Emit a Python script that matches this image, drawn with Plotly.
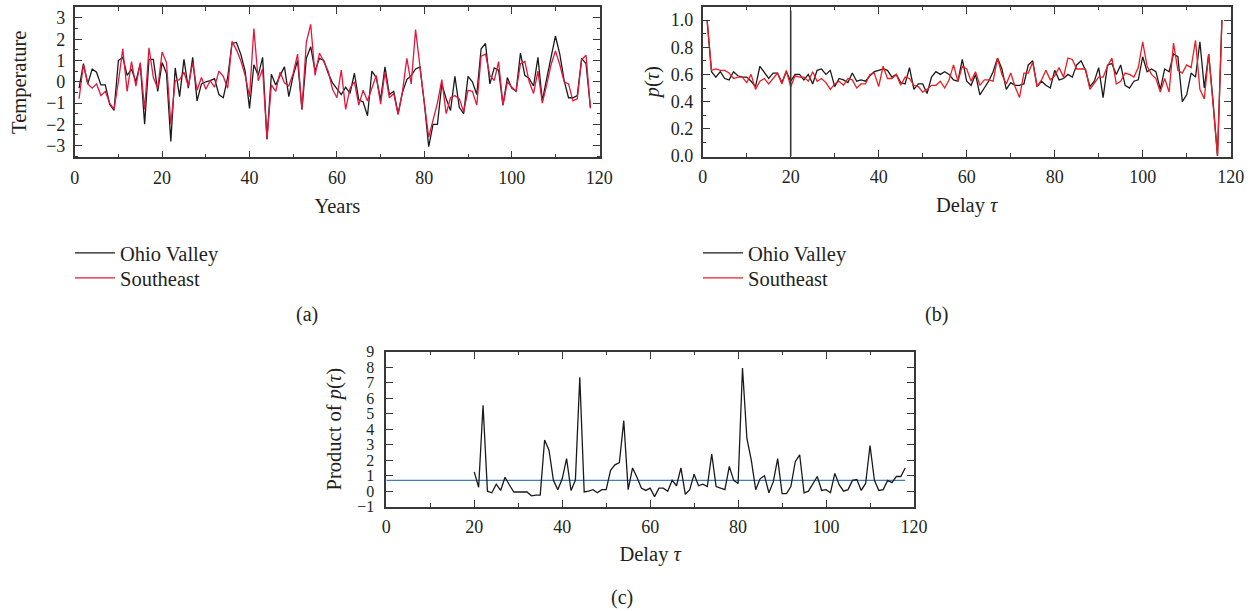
import plotly.graph_objects as go

W, H = 1253, 611
FONT = "Liberation Serif"
TEXT = "#231f20"
AXIS = "#383838"
BLACK = "#1a1a1a"
RED_A = "#e3173e"
RED_B = "#ec1c24"
BLUE = "#3f7cc4"

# ---------------- data ----------------
years = list(range(1, 119))
ohio_temp = [-0.3, 0.85, -0.1, 0.6, 0.45, -0.15, -0.15, -1.05, -1.35, 1.0,
             1.15, 0.3, 0.6, 0.0, 0.85, -2.0, 1.05, 1.05, -0.45, 0.9,
             0.4, -2.8, 0.65, -0.7, 1.05, -0.3, 1.15, -0.9, -0.1, 0.0,
             0.05, 0.15, -0.6, -0.75, 0.2, 1.8, 1.85, 1.3, 0.5, -1.25,
             0.8, 0.3, 1.15, -2.7, 0.35, -0.15, 0.3, 0.7, -0.7, 0.3,
             1.0, -1.3, 1.1, 1.65, 0.5, 1.1, 1.0, 0.4, -0.05, -0.35,
             -0.6, -0.25, -0.55, 0.4, -0.85, -0.95, -1.6, 0.5, 0.2, -0.85,
             0.7, -0.6, -0.45, -1.5, -0.5, 0.1, 0.3, 0.6, 0.7, -1.0,
             -3.05, -2.0, -2.0, -0.1, -0.8, -1.35, 0.25, -1.2, -1.5, 0.25,
             0.0, -0.6, 1.55, 1.8, -0.1, 0.65, 0.55, -1.1, 0.2, -0.3,
             -0.45, 1.35, 0.3, 0.15, -0.2, 1.15, -0.9, 0.15, 1.15, 2.15,
             1.3, 0.05, -0.75, -0.75, -0.65, 1.1, 0.85, -1.2]
southeast_temp = [-0.8, 0.8, -0.1, -0.3, -0.1, -0.65, -0.45, -1.0, -1.3, 0.0,
                  1.55, -0.45, 0.95, -0.2, 0.9, -1.3, 1.6, 0.2, -0.3, 1.4,
                  0.9, -2.0, 0.05, 0.1, 0.45, -0.2, 0.9, -0.4, 0.2, -0.35,
                  0.05, -0.25, 0.5, 0.25, -0.3, 1.9, 1.5, 1.0, 0.3, -0.7,
                  2.5, 0.05, 0.6, -2.7, -0.15, -0.45, 0.45, -0.05, -0.2, 0.4,
                  1.3, -1.3, 1.85, 2.7, 0.3, 1.35, 0.95, 0.5, -0.35, -0.75,
                  0.55, -1.3, -0.3, 0.0, -1.1, -0.4, -0.9, -0.3, 0.3, -1.05,
                  0.45, -0.75, -0.55, -1.55, -0.45, 1.1, -0.1, 2.45, 0.6, -1.0,
                  -2.6, -1.8, -1.0, 0.1, -1.5, -0.75, -0.65, -0.8, -1.4, -0.4,
                  -0.45, -1.1, 1.2, 1.3, 0.3, 0.05, 0.95, -1.1, 0.0, -0.25,
                  -0.45, 0.85, 0.95, 0.0, -0.55, 0.5, -1.0, -0.15, 0.8, 1.45,
                  0.8, 0.0, -0.1, -0.9, -0.8, 1.05, 1.25, -1.25]

delay_b = list(range(1, 119))
ohio_p = [1.0, 0.62, 0.58, 0.62, 0.57, 0.56, 0.62, 0.59, 0.58, 0.58,
          0.55, 0.51, 0.66, 0.61, 0.57, 0.61, 0.61, 0.54, 0.62, 0.55,
          0.6, 0.6, 0.56, 0.6, 0.53, 0.63, 0.64, 0.6, 0.63, 0.51,
          0.57, 0.56, 0.54, 0.61, 0.55, 0.56, 0.55, 0.59, 0.62, 0.63,
          0.64, 0.63, 0.58, 0.6, 0.54, 0.53, 0.65, 0.49, 0.53, 0.53,
          0.46, 0.58, 0.62, 0.6, 0.62, 0.6, 0.56, 0.55, 0.71, 0.55,
          0.52, 0.6, 0.45, 0.5, 0.55, 0.62, 0.72, 0.64, 0.49, 0.54,
          0.52, 0.52, 0.53, 0.67, 0.7, 0.51, 0.55, 0.52, 0.5, 0.63,
          0.56, 0.57, 0.6, 0.58, 0.67, 0.7, 0.63, 0.51, 0.55, 0.65,
          0.43, 0.67, 0.68, 0.6, 0.67, 0.52, 0.5, 0.55, 0.56, 0.73,
          0.62, 0.64, 0.62, 0.49, 0.64, 0.62, 0.75, 0.73, 0.4, 0.45,
          0.61, 0.58, 0.84, 0.5, 0.75, 0.4, 0.0, 1.0]
southeast_p = [1.0, 0.63, 0.64, 0.63, 0.63, 0.61, 0.57, 0.58, 0.58, 0.54,
               0.6, 0.49, 0.55, 0.57, 0.53, 0.57, 0.61, 0.53, 0.63, 0.51,
               0.59, 0.58, 0.58, 0.55, 0.62, 0.55, 0.57, 0.54, 0.49, 0.53,
               0.55, 0.52, 0.57, 0.56, 0.5, 0.53, 0.53, 0.6, 0.61, 0.51,
               0.66, 0.57, 0.57, 0.6, 0.52, 0.58, 0.57, 0.52, 0.51, 0.47,
               0.49, 0.52, 0.52, 0.55, 0.5, 0.56, 0.67, 0.55, 0.66, 0.64,
               0.55, 0.62, 0.52, 0.56, 0.56, 0.55, 0.72, 0.6, 0.53, 0.61,
               0.51, 0.43, 0.61, 0.61, 0.69, 0.51, 0.56, 0.63, 0.56, 0.59,
               0.65, 0.58, 0.72, 0.71, 0.64, 0.64, 0.64, 0.49, 0.54, 0.58,
               0.58, 0.66, 0.72, 0.53, 0.55, 0.61, 0.6, 0.58, 0.65, 0.84,
               0.66, 0.6, 0.57, 0.47, 0.57, 0.47, 0.83, 0.63, 0.61, 0.67,
               0.65, 0.85, 0.49, 0.42, 0.75, 0.4, 0.0, 1.0]
marker_delay = 20
marker_top = 1.07

delay_c = list(range(20, 119))
product_p = [1.25, 0.25, 5.55, 0.0, -0.1, 0.45, 0.05, 0.9, 0.4, -0.05,
             -0.05, -0.05, -0.05, -0.3, -0.25, -0.25, 3.3, 2.65, 0.7, 0.1,
             0.8, 2.1, 0.05, 0.7, 7.35, -0.05, 0.0, 0.1, -0.1, 0.1,
             0.1, 1.35, 1.7, 1.85, 4.55, 0.1, 1.5, 0.9, 0.2, 0.05,
             0.2, -0.35, 0.2, 0.2, 0.0, 0.7, 0.35, 1.5, -0.2, 0.1,
             1.1, 0.35, 0.45, 0.3, 2.4, 0.3, 0.2, 0.1, 1.6, 0.7,
             0.5, 7.95, 3.4, 2.0, 0.1, 0.8, 1.0, -0.1, 0.6, 2.1,
             -0.15, -0.15, 0.3, 1.9, 2.35, -0.1, 0.0, 0.45, 0.95, 0.05,
             0.1, -0.1, 1.15, 0.4, 0.0, 0.1, 0.7, 0.75, 0.05, 0.5,
             2.95, 0.7, 0.05, 0.1, 0.7, 0.55, 0.95, 0.95, 1.5]
threshold = 0.7


def px_dom_x(a, b):
    return [a / W, b / W]


def px_dom_y(top, bottom):
    return [1 - bottom / H, 1 - top / H]


def axis(**kw):
    base = dict(showline=True, linecolor=AXIS, linewidth=1.6, mirror="allticks",
                ticks="inside", ticklen=7, tickwidth=1.2, tickcolor=AXIS,
                showgrid=False, zeroline=False, automargin=False,
                tickfont=dict(family=FONT, size=18, color=TEXT),
                title_font=dict(family=FONT, size=20.5, color=TEXT))
    base.update(kw)
    return base


def minor(d):
    return dict(dtick=d, ticks="inside", ticklen=3.5, tickwidth=1, tickcolor=AXIS,
                showgrid=False)


fig = go.Figure()

fig.add_trace(go.Scatter(x=years, y=ohio_temp, mode="lines", name="Ohio Valley",
                         line=dict(color=BLACK, width=1.3), xaxis="x", yaxis="y",
                         legend="legend"))
fig.add_trace(go.Scatter(x=years, y=southeast_temp, mode="lines", name="Southeast",
                         line=dict(color=RED_A, width=1.3), xaxis="x", yaxis="y",
                         legend="legend2"))

fig.add_trace(go.Scatter(x=delay_b, y=ohio_p, mode="lines", name="Ohio Valley",
                         line=dict(color=BLACK, width=1.3), xaxis="x2", yaxis="y2",
                         legend="legend3"))
fig.add_trace(go.Scatter(x=delay_b, y=southeast_p, mode="lines", name="Southeast",
                         line=dict(color=RED_B, width=1.3), xaxis="x2", yaxis="y2",
                         legend="legend4"))
fig.add_trace(go.Scatter(x=[marker_delay, marker_delay], y=[0, marker_top], mode="lines",
                         line=dict(color=AXIS, width=1.6), xaxis="x2", yaxis="y2",
                         showlegend=False, hoverinfo="skip"))

fig.add_trace(go.Scatter(x=[0, 118], y=[threshold, threshold], mode="lines",
                         line=dict(color=BLUE, width=1.3), xaxis="x3", yaxis="y3",
                         showlegend=False))
fig.add_trace(go.Scatter(x=delay_c, y=product_p, mode="lines",
                         line=dict(color=BLACK, width=1.3), xaxis="x3", yaxis="y3",
                         showlegend=False))


def leg(xpx, ypx):
    return dict(x=xpx / W, y=1 - ypx / H, xanchor="left", yanchor="middle",
                bgcolor="rgba(0,0,0,0)", borderwidth=0,
                font=dict(family=FONT, size=20.5, color=TEXT), itemwidth=40)


fig.update_layout(
    width=W, height=H,
    margin=dict(l=0, r=0, t=0, b=0),
    paper_bgcolor="white", plot_bgcolor="white",
    font=dict(family=FONT, size=18, color=TEXT),
    xaxis=axis(domain=px_dom_x(74.7, 600), anchor="y", range=[0, 120.2], dtick=20,
               minor=minor(10), ticklabelstandoff=3,
               title=dict(text="Years", standoff=12)),
    yaxis=axis(domain=px_dom_y(7.3, 157.3), anchor="x", range=[-3.55, 3.5], dtick=1,
               minor=minor(0.5), ticklabelstandoff=4,
               title=dict(text="Temperature", standoff=14)),
    xaxis2=axis(domain=px_dom_x(702.7, 1230.7), anchor="y2", range=[0, 120], dtick=20,
                minor=minor(10), ticklabelstandoff=3,
                title=dict(text="Delay <i>τ</i>", standoff=12)),
    yaxis2=axis(domain=px_dom_y(6.7, 156.7), anchor="x2", range=[-0.005, 1.098],
                dtick=0.2, tick0=0, tickformat=".1f", minor=minor(0.1),
                ticklabelstandoff=4,
                title=dict(text="<i>p</i>(<i>τ</i>)", standoff=6)),
    xaxis3=axis(domain=px_dom_x(386.3, 914), anchor="y3", range=[0, 120], dtick=20,
                minor=minor(10), ticklabelstandoff=3,
                title=dict(text="Delay <i>τ</i>", standoff=11)),
    yaxis3=axis(domain=px_dom_y(351.7, 506.7), anchor="x3", range=[-1, 9], dtick=1,
                ticklabelstandoff=7, tickfont=dict(family=FONT, size=16, color=TEXT),
                title=dict(text="Product of <i>p</i>(<i>τ</i>)", standoff=10)),
    legend=leg(70, 253),
    legend2=leg(70, 278),
    legend3=leg(698, 253),
    legend4=leg(698, 278),
    showlegend=True,
)

for label, cx, cy in [("(a)", 307, 314), ("(b)", 936, 314), ("(c)", 622, 597)]:
    fig.add_annotation(text=label, x=cx / W, y=1 - cy / H, xref="paper", yref="paper",
                       showarrow=False, xanchor="center", yanchor="middle",
                       font=dict(family=FONT, size=20, color=TEXT))

fig.write_html("out.html")
